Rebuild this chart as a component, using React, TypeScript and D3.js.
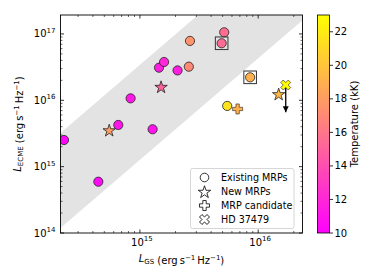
import React from 'react';
import * as d3 from 'd3';

// L_GS, L_ECME (erg s^-1 Hz^-1), temperature (kK)
const existingGS = [2.28e14, 4.45e14, 6.56e14, 8.34e14, 1.28e15, 1.45e15, 1.6e15, 2.08e15, 2.59e15, 2.65e15, 5.16e15, 4.91e15, 8.55e15, 5.47e15];
const existingECME = [2.52e15, 5.93e14, 4.25e15, 1.07e16, 3.66e15, 3.1e16, 3.78e16, 2.82e16, 3.21e16, 7.85e16, 1.06e17, 7.24e16, 2.22e16, 8.22e15];
const existingTemp = [10.2, 10.5, 11.0, 11.2, 11.0, 11.5, 12.0, 11.5, 17.0, 17.5, 15.6, 15.5, 19.0, 21.6];
const boxed = [false, false, false, false, false, false, false, false, false, false, false, true, true, false];

const newGS = [5.5e14, 1.51e15, 1.49e16];
const newECME = [3.57e15, 1.61e16, 1.25e16];
const newTemp = [18.0, 15.0, 19.5];

const candGS = [6.7e15];
const candECME = [7.4e15];
const candTemp = [19.0];

const hdGS = [1.71e16];
const hdECME = [1.7e16];
const hdLimit = [6.6e15];
const hdTemp = [23.0];

// band: L_ECME = norm * (L_GS / 1e15)^slope
const bandSlope = 1.53;
const bandUpper = 3.43e16;
const bandLower = 1.27e15;

const xTicks = [1e15, 1e16];
const xTickLabels = ['15', '16'];
const yTicks = [1e14, 1e15, 1e16, 1e17];
const yTickLabels = ['14', '15', '16', '17'];
const cTicks = [10, 12, 14, 16, 18, 20, 22];
const legendLabels = ['Existing MRPs', 'New MRPs', 'MRP candidate', 'HD 37479'];

const W = 374;
const H = 280;
const plot = { left: 60.5, right: 302.5, top: 15, bottom: 233 };
const cbar = { left: 317.5, right: 329.5 };
const font = 'DejaVu Sans, sans-serif';

const x = d3.scaleLog().domain([2.13e14, 2.37e16]).range([plot.left, plot.right]);
const y = d3.scaleLog().domain([1e14, 1.93e17]).range([plot.bottom, plot.top]);
const tScale = d3.scaleLinear().domain([10, 23]).range([0, 1]).clamp(true);
const cY = d3.scaleLinear().domain([10, 23]).range([plot.bottom, plot.top]);

const spring = (T: number) => {
  const t = tScale(T);
  return d3.rgb(255, 255 * t, 255 * (1 - t)).toString();
};

const minorTicks = (domain: number[]) => {
  const out: number[] = [];
  for (let e = 13; e <= 17; e++) {
    for (let m = 2; m <= 9; m++) {
      const v = m * Math.pow(10, e);
      if (v > domain[0] && v < domain[1]) out.push(v);
    }
  }
  return out;
};

const star = d3.symbol().type(d3.symbolStar).size(48)()!;
const cross = d3.symbol().type(d3.symbolCross).size(56)()!;
const xcross = d3.symbol().type(d3.symbolCross).size(62)()!;

const bandLine = (norm: number, lx: number) => norm * Math.pow(lx / 1e15, bandSlope);

const Pow = ({ x: px, y: py, exp, anchor }: { x: number; y: number; exp: string; anchor: string }) => (
  <text x={px} y={py} textAnchor={anchor} fontSize={10} fontFamily={font} fill="#000">
    10<tspan dy={-4.5} fontSize={7}>{exp}</tspan>
  </text>
);

const Unit = () => (
  <>
    {' (erg\u2009s'}
    <tspan dy={-4} fontSize={7}>{'\u22121'}</tspan>
    <tspan dy={4}>{'\u2009Hz'}</tspan>
    <tspan dy={-4} fontSize={7}>{'\u22121'}</tspan>
    <tspan dy={4}>)</tspan>
  </>
);

export default function App() {
  const xd = x.domain();
  const yd = y.domain();
  const bandPts: [number, number][] = [
    [x(xd[0]), y(bandLine(bandUpper, xd[0]))],
    [x(xd[1]), y(bandLine(bandUpper, xd[1]))],
    [x(xd[1]), y(bandLine(bandLower, xd[1]))],
    [x(xd[0]), y(bandLine(bandLower, xd[0]))],
  ];
  const xMinor = minorTicks(xd);
  const yMinor = minorTicks(yd);
  const majorLen = 3.5;
  const minorLen = 2;

  return (
    <div style={{ position: 'absolute', left: 0, top: 0 }}>
      <svg width={W} height={H} style={{ display: 'block', background: '#fff' }}>
        <defs>
          <clipPath id="plotClip">
            <rect x={plot.left} y={plot.top} width={plot.right - plot.left} height={plot.bottom - plot.top} />
          </clipPath>
          <linearGradient id="springGrad" x1="0" y1="1" x2="0" y2="0">
            <stop offset="0" stopColor={spring(10)} />
            <stop offset="1" stopColor={spring(23)} />
          </linearGradient>
          <marker id="arrowHead" viewBox="0 0 10 10" refX="10" refY="5" markerWidth="6" markerHeight="8" markerUnits="userSpaceOnUse" orient="auto">
            <path d="M0,0 L10,5 L0,10 z" fill="#000" />
          </marker>
        </defs>

        <g clipPath="url(#plotClip)">
          <polygon points={bandPts.map((p) => p.join(',')).join(' ')} fill="#e3e3e3" />

          {existingGS.map((gs, i) => (
            <circle key={'c' + i} cx={x(gs)} cy={y(existingECME[i])} r={4.6}
              fill={spring(existingTemp[i])} stroke="#222" strokeWidth={0.8} />
          ))}
          {existingGS.map((gs, i) =>
            boxed[i] ? (
              <rect key={'b' + i} x={x(gs) - 6.3} y={y(existingECME[i]) - 6.3} width={12.6} height={12.6}
                fill="none" stroke="#333" strokeWidth={1} />
            ) : null
          )}
          {newGS.map((gs, i) => (
            <path key={'s' + i} d={star} transform={`translate(${x(gs)},${y(newECME[i]) + 0.8})`}
              fill={spring(newTemp[i])} stroke="#222" strokeWidth={0.8} />
          ))}
          {candGS.map((gs, i) => (
            <path key={'p' + i} d={cross} transform={`translate(${x(gs)},${y(candECME[i])})`}
              fill={spring(candTemp[i])} stroke="#222" strokeWidth={0.6} />
          ))}
          {hdGS.map((gs, i) => (
            <g key={'h' + i}>
              <line x1={x(gs)} x2={x(gs)} y1={y(hdECME[i])} y2={y(hdLimit[i])}
                stroke="#000" strokeWidth={1.3} markerEnd="url(#arrowHead)" />
              <path d={xcross} transform={`translate(${x(gs)},${y(hdECME[i])}) rotate(45)`}
                fill={spring(hdTemp[i])} stroke="#222" strokeWidth={0.6} />
            </g>
          ))}
        </g>

        {/* ticks, direction in on all sides */}
        <g stroke="#000" strokeWidth={0.8}>
          {xTicks.map((t) => (
            <g key={'xt' + t}>
              <line x1={x(t)} x2={x(t)} y1={plot.bottom} y2={plot.bottom - majorLen} />
              <line x1={x(t)} x2={x(t)} y1={plot.top} y2={plot.top + majorLen} />
            </g>
          ))}
          {xMinor.map((t) => (
            <g key={'xm' + t}>
              <line x1={x(t)} x2={x(t)} y1={plot.bottom} y2={plot.bottom - minorLen} strokeWidth={0.6} />
              <line x1={x(t)} x2={x(t)} y1={plot.top} y2={plot.top + minorLen} strokeWidth={0.6} />
            </g>
          ))}
          {yTicks.map((t) => (
            <g key={'yt' + t}>
              <line x1={plot.left} x2={plot.left + majorLen} y1={y(t)} y2={y(t)} />
              <line x1={plot.right} x2={plot.right - majorLen} y1={y(t)} y2={y(t)} />
            </g>
          ))}
          {yMinor.map((t) => (
            <g key={'ym' + t}>
              <line x1={plot.left} x2={plot.left + minorLen} y1={y(t)} y2={y(t)} strokeWidth={0.6} />
              <line x1={plot.right} x2={plot.right - minorLen} y1={y(t)} y2={y(t)} strokeWidth={0.6} />
            </g>
          ))}
        </g>
        <rect x={plot.left} y={plot.top} width={plot.right - plot.left} height={plot.bottom - plot.top}
          fill="none" stroke="#000" strokeWidth={0.9} />

        {xTicks.map((t, i) => (
          <Pow key={'xl' + t} x={x(t) + 2} y={plot.bottom + 12.5} exp={xTickLabels[i]} anchor="middle" />
        ))}
        {yTicks.map((t, i) => (
          <Pow key={'yl' + t} x={plot.left - 5} y={y(t) + 3.5} exp={yTickLabels[i]} anchor="end" />
        ))}

        <text x={(plot.left + plot.right) / 2} y={262} textAnchor="middle" fontSize={10} fontFamily={font}>
          <tspan fontStyle="italic">L</tspan>
          <tspan dy={2} fontSize={7}>GS</tspan>
          <tspan dy={-2}></tspan>
          <Unit />
        </text>
        <text transform={`translate(21,${(plot.top + plot.bottom) / 2}) rotate(-90)`} textAnchor="middle" fontSize={10} fontFamily={font}>
          <tspan fontStyle="italic">L</tspan>
          <tspan dy={2} fontSize={7}>ECME</tspan>
          <tspan dy={-2}></tspan>
          <Unit />
        </text>

        {/* legend */}
        <g>
          <rect x={190.5} y={168.5} width={103.5} height={60} rx={2} fill="#fff" fillOpacity={0.85} stroke="#cccccc" strokeWidth={0.8} />
          {legendLabels.map((lab, i) => {
            const ly = 177.5 + i * 14;
            const lx = 204.5;
            return (
              <g key={lab}>
                {i === 0 && <circle cx={lx} cy={ly} r={4.3} fill="none" stroke="#000" strokeWidth={0.8} />}
                {i === 1 && <path d={star} transform={`translate(${lx},${ly + 0.8})`} fill="none" stroke="#000" strokeWidth={0.8} />}
                {i === 2 && <path d={cross} transform={`translate(${lx},${ly})`} fill="none" stroke="#000" strokeWidth={0.8} />}
                {i === 3 && <path d={xcross} transform={`translate(${lx},${ly}) rotate(45)`} fill="none" stroke="#000" strokeWidth={0.8} />}
                <text x={221} y={ly + 3.5} fontSize={9.6} fontFamily={font}>{lab}</text>
              </g>
            );
          })}
        </g>

        {/* colorbar */}
        <rect x={cbar.left} y={plot.top} width={cbar.right - cbar.left} height={plot.bottom - plot.top} fill="url(#springGrad)" stroke="#000" strokeWidth={0.8} />
        {cTicks.map((t) => (
          <g key={'ct' + t}>
            <line x1={cbar.right} x2={cbar.right + 3.5} y1={cY(t)} y2={cY(t)} stroke="#000" strokeWidth={0.8} />
            <text x={cbar.right + 5} y={cY(t) + 3.5} fontSize={10} fontFamily={font}>{t}</text>
          </g>
        ))}
        <text transform={`translate(358,${(plot.top + plot.bottom) / 2}) rotate(-90)`} textAnchor="middle" fontSize={10} fontFamily={font}>
          Temperature (kK)
        </text>
      </svg>
    </div>
  );
}
